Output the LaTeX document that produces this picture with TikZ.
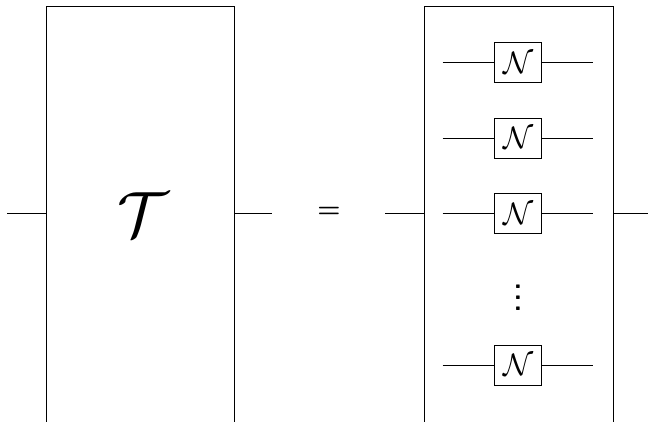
\documentclass[tikz,border=0pt]{standalone}
\begin{document}
\begin{tikzpicture}[x=1pt, y=-1pt, line width=0.9pt,
  bigbox/.style={draw, rectangle, inner sep=0pt, anchor=north west, minimum height=416pt},
  nbox/.style={draw, rectangle, inner sep=0pt, minimum width=47.7pt, minimum height=40pt},
  wire/.style={line width=0.9pt}]
\useasboundingbox (0,0) rectangle (648,422);

% the two big blocks (they run past the bottom edge)
\node[bigbox, minimum width=188.2pt] (Tbox) at (45.5,6.3) {};
\node[bigbox, minimum width=189pt] (Sbox) at (423.5,6.3) {};

% label of the left block
\node (T) at (143,215) {\scalebox{6.4}{$\mathcal{T}$}};

% equals sign
\node (eq) at (329,212.5) {\scalebox{2.6}{\textbf{=}}};

% outer wires
\coordinate (inL)  at (7,213.5);
\coordinate (outL) at (272,213.5);
\coordinate (inR)  at (385,213.5);
\coordinate (outR) at (648,213.5);
\draw[wire] (inL) -- (inL -| Tbox.west);
\draw[wire] (outL -| Tbox.east) -- (outL);
\draw[wire] (inR) -- (inR -| Sbox.west);
\draw[wire] (outR -| Sbox.east) -- (outR);

% parallel channels inside the right block
\foreach \i/\y in {1/62.5, 2/138, 3/213.7, 4/365} {
  \node[nbox] (n\i) at (518,\y) {\scalebox{3.1}{$\mathcal{N}$}};
  \coordinate (a\i) at (442.7,\y);
  \coordinate (b\i) at (593.3,\y);
  \draw[wire] (a\i) -- (n\i.west);
  \draw[wire] (n\i.east) -- (b\i);
}

% vertical ellipsis, square dots
\node (vd) at (518,297.5) {\scalebox{2.7}{\vbox{\baselineskip4pt\lineskiplimit0pt
  \hbox{\sffamily\bfseries .}\hbox{\sffamily\bfseries .}\hbox{\sffamily\bfseries .}}}};
\end{tikzpicture}
\end{document}
